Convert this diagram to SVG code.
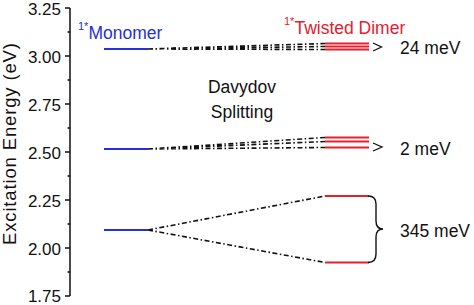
<svg xmlns="http://www.w3.org/2000/svg" width="474" height="305" viewBox="0 0 474 305">
<style>
text{font-family:"Liberation Sans",Arial,sans-serif;}
.tick{font-size:17px;fill:#111;text-anchor:end;}
.lbl{font-size:17.5px;fill:#111;}
.blue{stroke:#2430d8;stroke-width:2.2;fill:none;}
.red{stroke:#e5202e;stroke-width:2;fill:none;}
.dd{stroke:#111;stroke-width:1.6;fill:none;stroke-dasharray:5 2.5 1.5 2.5;}
.ax{stroke:#111;stroke-width:1.5;fill:none;}
</style>
<rect width="474" height="305" fill="#fff"/>
<g id="axis">
<path class="ax" d="M70,8V296M65,8H70M65,56H70M65,104H70M65,152H70M65,200H70M65,248H70M65,296H70M67.5,32H70M67.5,80H70M67.5,128H70M67.5,176H70M67.5,224H70M67.5,272H70"/>
<text class="tick" x="61" y="15">3.25</text>
<text class="tick" x="61" y="63">3.00</text>
<text class="tick" x="61" y="111">2.75</text>
<text class="tick" x="61" y="159">2.50</text>
<text class="tick" x="61" y="207">2.25</text>
<text class="tick" x="61" y="255">2.00</text>
<text class="tick" x="61" y="302">1.75</text>
<text transform="translate(16,144) rotate(-90)" text-anchor="middle" font-size="18.5" fill="#111" textLength="202" lengthAdjust="spacing">Excitation Energy (eV)</text>
</g>
<g id="monomer">
<text x="78" y="39" font-size="17.5" fill="#2430d8"><tspan font-size="11" dy="-9">1*</tspan><tspan dy="9">Monomer</tspan></text>
<path class="blue" d="M104,49H148M104,149H148M104,230H148"/>
</g>
<g id="dimer">
<text x="284" y="34" font-size="17.5" fill="#e5202e"><tspan font-size="11" dy="-9">1*</tspan><tspan dy="9">Twisted Dimer</tspan></text>
<path class="red" d="M325,43.5H369M325,46.5H369M325,49.5H369"/>
<path class="red" d="M325,137.5H369M325,141.5H369M325,147.5H369"/>
<path class="red" d="M325,196H369M325,262.5H369"/>
</g>
<g id="connectors">
<path class="dd" d="M148,49L325,43.5M148,49L325,46.5M148,49L325,49.5"/>
<path class="dd" d="M148,149L325,137.5M148,149L325,141.5M148,149L325,147.5"/>
<path class="dd" d="M148,230L325,196M148,230L325,262.5"/>
</g>
<g id="splitting-labels">
<path d="M373,43L381.5,47L373,51" fill="none" stroke="#111" stroke-width="1.3"/>
<path d="M373,143L382,147L373,151" fill="none" stroke="#111" stroke-width="1.3"/>
<path d="M368,196Q376,196 376,204L376,221Q376,229 383,229Q376,229 376,237L376,254Q376,262.5 368,262.5" fill="none" stroke="#111" stroke-width="1.4"/>
<text class="lbl" x="400" y="54">24 meV</text>
<text class="lbl" x="400" y="155">2 meV</text>
<text class="lbl" x="400" y="237">345 meV</text>
</g>
<g id="davydov">
<text class="lbl" x="242" y="93" text-anchor="middle">Davydov</text>
<text class="lbl" x="242" y="118" text-anchor="middle">Splitting</text>
</g>
</svg>
